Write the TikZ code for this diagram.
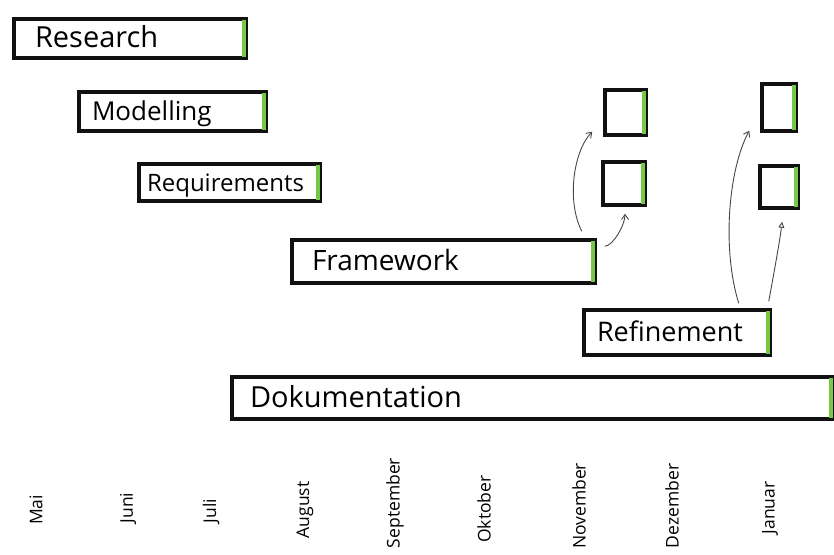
\documentclass[tikz,border=0pt]{standalone}
\usepackage{fontspec}
\setmainfont{Open Sans}
\usetikzlibrary{arrows.meta}
\definecolor{barg}{RGB}{118,200,70}
\definecolor{ink}{RGB}{17,17,17}
\definecolor{arrowink}{RGB}{70,70,70}
\tikzset{
  bar/.style={draw=ink, line width=3.5pt, fill=white, align=left, inner ysep=0pt,
    text height=20pt, text depth=1.5pt},
  sqbox/.style={draw=ink, line width=3.5pt, fill=white, inner sep=0pt},
  greenstrip/.style={draw=barg, line width=4pt},
  conn/.style={draw=arrowink, line width=0.9pt, -{Straight Barb[length=5pt,width=7pt]}},
  connb/.style={draw=arrowink, line width=0.9pt, -{Triangle[open,length=6pt,width=6pt]}},
  month/.style={rotate=90, font=\fontsize{17.5}{20}\selectfont, inner sep=0pt},
}
\begin{document}
\begin{tikzpicture}[x=1pt,y=-1pt]
\useasboundingbox (0,0) rectangle (834,554);

% bars
\node[bar, minimum height=39pt, text width=190pt, inner xsep=21pt, font=\fontsize{29}{31}\selectfont] (research) at (130,38.5) {Research};
\node[bar, minimum height=39pt, text width=161pt, inner xsep=13pt, font=\fontsize{26}{28}\selectfont] (modelling) at (172.5,111.5) {Modelling};
\node[bar, minimum height=37pt, text width=165pt, inner xsep=8pt, font=\fontsize{24}{26}\selectfont] (requirements) at (229.5,182.5) {Requirements};
\node[bar, minimum height=43pt, text width=263pt, inner xsep=20pt, font=\fontsize{28}{30}\selectfont] (framework) at (443.5,261.5) {Framework};
\node[bar, minimum height=45pt, text width=160pt, inner xsep=13pt, font=\fontsize{27}{29}\selectfont] (refinement) at (677,332.5) {Refinement};
\node[bar, minimum height=42pt, text width=565pt, inner xsep=18pt, font=\fontsize{29}{31}\selectfont] (dokumentation) at (532.5,398) {Dokumentation};

% small boxes
\node[sqbox, minimum width=41pt, minimum height=45pt] (sq1) at (625.5,112.5) {};
\node[sqbox, minimum width=42pt, minimum height=43pt] (sq2) at (624,183.5) {};
\node[sqbox, minimum width=34pt, minimum height=47pt] (sq3) at (779,107.5) {};
\node[sqbox, minimum width=38pt, minimum height=42pt] (sq4) at (779,187) {};

% green strips
\foreach \n in {research,modelling,requirements,framework,refinement,dokumentation,sq1,sq2,sq3,sq4}{
  \draw[greenstrip] ([xshift=-4pt,yshift=-3pt]\n.north east) -- ([xshift=-4pt,yshift=3pt]\n.south east);
}

% connectors
\coordinate (a1s) at ([xshift=-15pt,yshift=7pt]framework.north east);
\coordinate (a1e) at ([xshift=-11pt,yshift=5pt]sq1.south west);
\coordinate (a2s) at ([xshift=8pt,yshift=-8pt]framework.north east);
\coordinate (a2e) at ([xshift=1pt,yshift=-7pt]sq2.south);
\coordinate (a3s) at ([xshift=-33pt,yshift=5pt]refinement.north east);
\coordinate (a3e) at ([xshift=-11pt,yshift=2pt]sq3.south west);
\coordinate (a4s) at ([xshift=-3pt,yshift=7pt]refinement.north east);
\coordinate (a4e) at ([xshift=3pt,yshift=-12pt]sq4.south);

\draw[conn] (a1s) .. controls (566,200) and (574,150) .. (a1e);
\draw[conn] (a2s) .. controls (613,246) and (625,225) .. (a2e);
\draw[conn] (a3s) .. controls (722,250) and (728,170) .. (a3e);
\draw[connb] (a4s) .. controls (773,278) and (780,240) .. (a4e);

% months
\node[month] (m1) at (36,510) {Mai};
\node[month] (m2) at (128,508) {Juni};
\node[month] (m3) at (211,511) {Juli};
\node[month] (m4) at (305,510) {August};
\node[month] (m5) at (395,503) {September};
\node[month] (m6) at (484,509) {Oktober};
\node[month] (m7) at (579,506) {November};
\node[month] (m8) at (672,506) {Dezember};
\node[month] (m9) at (770,508) {Januar};
\end{tikzpicture}
\end{document}
